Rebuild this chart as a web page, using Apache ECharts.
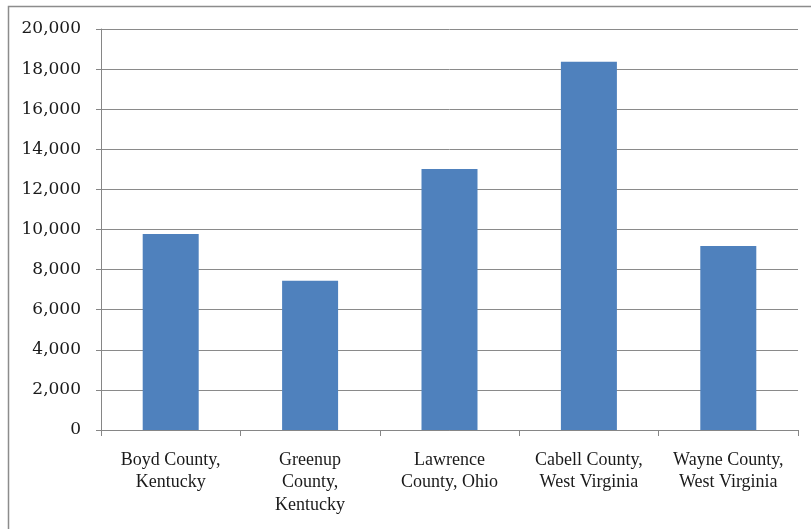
<!DOCTYPE html>
<html>
<head>
<meta charset="utf-8">
<script src="https://cdn.jsdelivr.net/npm/echarts@6/dist/echarts.min.js"></script>
<style>
html,body{margin:0;padding:0;background:#fff;}
#c{width:811px;height:529px;}
</style>
</head>
<body>
<div id="c"></div>
<script>
var categories = ["Boyd County,\nKentucky", "Greenup\nCounty,\nKentucky", "Lawrence\nCounty, Ohio", "Cabell County,\nWest Virginia", "Wayne County,\nWest Virginia"];
var values = [9780, 7450, 13020, 18370, 9180];
var yMin = 0, yMax = 20000, yStep = 2000;

var chart = echarts.init(document.getElementById('c'), null, {renderer: 'canvas'});
chart.setOption({
  animation: false,
  backgroundColor: '#ffffff',
  graphic: [{
    type: 'rect',
    shape: {x: 8.5, y: 6.5, width: 830, height: 560},
    style: {fill: 'none', stroke: '#8c8c8c', lineWidth: 1.5},
    silent: true
  }],
  grid: {left: 101, right: 13, top: 29, bottom: 99, containLabel: false},
  xAxis: {
    type: 'category',
    data: categories,
    axisLine: {show: true, lineStyle: {color: '#868686', width: 1}},
    axisTick: {show: true, alignWithLabel: false, length: 6, lineStyle: {color: '#868686'}},
    axisLabel: {
      interval: 0, margin: 19,
      fontFamily: 'Liberation Serif', fontSize: 18, color: '#1a1a1a', lineHeight: 22.5
    },
    splitLine: {show: false}
  },
  yAxis: {
    type: 'value',
    min: yMin, max: yMax, interval: yStep,
    axisLine: {show: true, lineStyle: {color: '#868686', width: 1}},
    axisTick: {show: true, length: 5, lineStyle: {color: '#868686'}},
    axisLabel: {
      margin: 20,
      fontFamily: 'DejaVu Serif', fontSize: 17, color: '#1a1a1a',
      formatter: function (v) { return v.toLocaleString('en-US'); }
    },
    splitLine: {show: true, lineStyle: {color: '#8a8a8a', width: 1}}
  },
  series: [{
    type: 'bar',
    data: values,
    barWidth: 56,
    itemStyle: {color: '#4f81bd'}
  }]
});
</script>
</body>
</html>
